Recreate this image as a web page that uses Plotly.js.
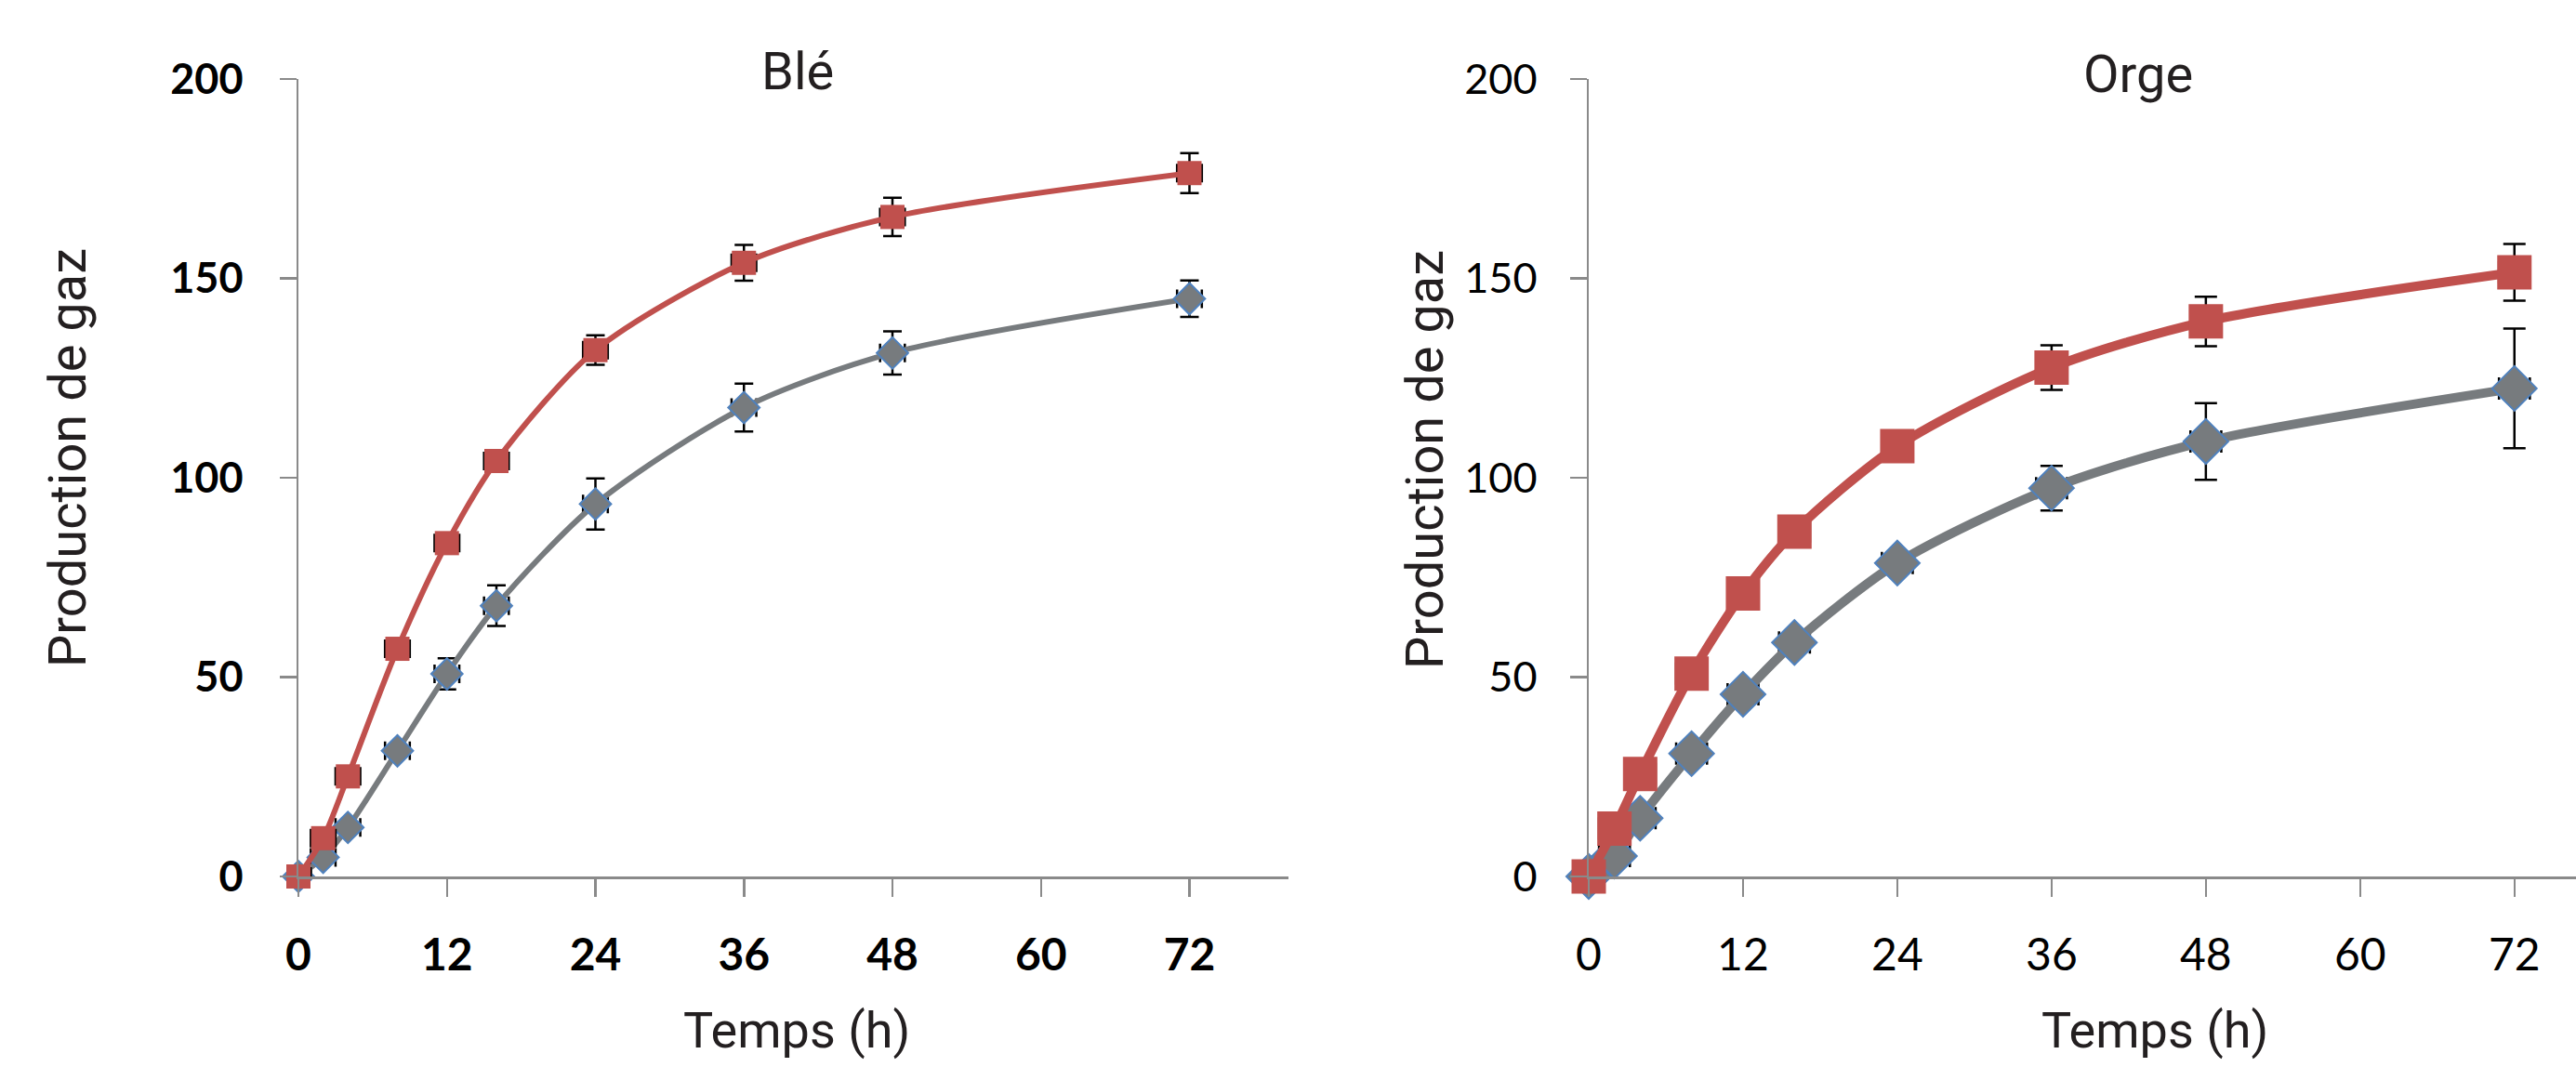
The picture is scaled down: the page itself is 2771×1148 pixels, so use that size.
<!DOCTYPE html>
<html><head><meta charset="utf-8">
<script src="https://cdn.plot.ly/plotly-3.0.1.min.js"></script>
<style>html,body{margin:0;padding:0;background:#fff}#chart{width:2771px;height:1148px}</style>
</head><body><div id="chart"></div>
<script>
// ---- data ----
const hours = [0, 2, 4, 8, 12, 16, 24, 36, 48, 72];
const bleRed = [0, 9.6, 25.1, 57.1, 83.6, 104.2, 132.0, 153.9, 165.4, 176.4];
const bleRedErr = [0.5, 1.0, 1.2, 1.2, 1.2, 2.5, 3.7, 4.5, 4.8, 5.0];
const bleGray = [0, 4.8, 12.3, 31.5, 50.8, 67.9, 93.4, 117.6, 131.3, 144.9];
const bleGrayErr = [0.3, 0.8, 1.0, 1.5, 3.9, 5.1, 6.4, 6.0, 5.4, 4.6];
const orgeRed = [0, 12.0, 25.7, 50.9, 71.0, 86.5, 107.9, 127.6, 139.2, 151.5];
const orgeRedErr = [0.5, 1.0, 1.5, 1.5, 1.5, 2.0, 3.0, 5.6, 6.2, 7.1];
const orgeGray = [0, 5.1, 14.6, 30.8, 45.7, 58.7, 78.6, 97.4, 109.1, 122.4];
const orgeGrayErr = [0.3, 1.0, 1.5, 1.5, 2.0, 2.0, 2.0, 5.6, 9.6, 15.0];
const xTicks = [0, 12, 24, 36, 48, 60, 72];
const yTicks = [0, 50, 100, 150, 200];
const panelTitles = ['Blé', 'Orge'];
const xTitle = 'Temps (h)';
const yTitle = 'Production de gaz';

// ---- styling / layout ----
const W = 2771, H = 1148;
const px = v => v / W, py = v => 1 - v / H;
const RED = '#c0504d', GRAY = '#777b7e', BLUE = '#4f81bd', AX = '#8a8a8a';

function pair(xa, ya, grayY, grayErr, redY, redErr, lw, ms, capW, xErr) {
  const base = {x: hours, xaxis: xa, yaxis: ya, mode: 'lines+markers', cliponaxis: false,
    showlegend: false, hoverinfo: 'x+y'};
  return [
    Object.assign({}, base, {y: grayY,
      line: {color: GRAY, width: lw, shape: 'spline', smoothing: 0.8},
      marker: {symbol: 'diamond', size: ms, color: GRAY, line: {color: BLUE, width: 2}},
      error_y: {type: 'data', array: grayErr, color: '#000', thickness: 2.5, width: capW},
      error_x: {type: 'constant', value: xErr, color: '#000', thickness: 2.5, width: capW}}),
    Object.assign({}, base, {y: redY,
      line: {color: RED, width: lw, shape: 'spline', smoothing: 0.8},
      marker: {symbol: 'square', size: ms, color: RED, line: {width: 0}},
      error_y: {type: 'data', array: redErr, color: '#000', thickness: 2.5, width: capW},
      error_x: {type: 'constant', value: xErr, color: '#000', thickness: 2.5, width: capW}})
  ];
}

const data = [].concat(
  pair('x', 'y', bleGray, bleGrayErr, bleRed, bleRedErr, 6, 26, 10, 1.0),
  pair('x2', 'y2', orgeGray, orgeGrayErr, orgeRed, orgeRedErr, 10, 37, 12, 1.2)
);

const yDom = [py(943), py(85)];
function xAxis(dom, rng, bold, anchor) {
  return {domain: dom, range: rng, anchor: anchor, tickvals: xTicks, ticktext: xTicks.map(String),
    showgrid: false, zeroline: false, showline: true, linecolor: AX, linewidth: 2.5,
    ticks: 'outside', ticklen: 19, tickwidth: 2.5, tickcolor: AX, ticklabelstandoff: 22,
    tickfont: {family: 'Lato, sans-serif', size: 48, color: '#000', weight: bold ? 'bold' : 'normal'},
    fixedrange: true};
}
function yAxis(rng, bold, anchor, standoff) {
  return {domain: yDom, range: rng, anchor: anchor, tickvals: yTicks, ticktext: yTicks.map(String),
    showgrid: false, zeroline: false, showline: true, linecolor: AX, linewidth: 2.5,
    ticks: 'outside', ticklen: 18, tickwidth: 2.5, tickcolor: AX, ticklabelstandoff: standoff,
    tickfont: {family: 'Lato, sans-serif', size: 45, color: '#000', weight: bold ? 'bold' : 'normal'},
    fixedrange: true};
}

const tFont = {family: 'Roboto, sans-serif', size: 56, color: '#231f20'};
const ann = (text, x, y, extra) => Object.assign({text: text, x: px(x), y: py(y), xref: 'paper', yref: 'paper',
  showarrow: false, xanchor: 'center', yanchor: 'middle', font: tFont}, extra || {});

const layout = {
  width: W, height: H, margin: {l: 0, r: 0, t: 0, b: 0},
  paper_bgcolor: '#fff', plot_bgcolor: 'rgba(0,0,0,0)',
  xaxis: xAxis([px(321), px(1386)], [0, 80], true, 'y'),
  yaxis: yAxis([0, 200], true, 'x', 30),
  xaxis2: xAxis([px(1709), 1], [0, (W - 1709) / 13.83], false, 'y2'),
  yaxis2: yAxis([0, 200], false, 'x2', 26),
  annotations: [
    ann(panelTitles[0], 858, 77),
    ann(panelTitles[1], 2300, 80),
    ann(yTitle, 73, 493, {textangle: -90}),
    ann(yTitle, 1533, 494, {textangle: -90}),
    ann(xTitle, 857, 1108, {font: Object.assign({}, tFont, {size: 54})}),
    ann(xTitle, 2318, 1108, {font: Object.assign({}, tFont, {size: 54})})
  ]
};

Plotly.newPlot('chart', data, layout, {staticPlot: true, displayModeBar: false});
</script></body></html>
